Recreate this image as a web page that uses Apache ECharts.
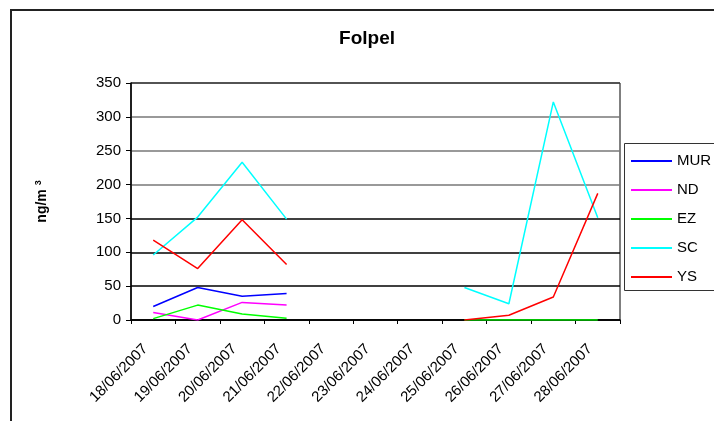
<!DOCTYPE html>
<html>
<head>
<meta charset="utf-8">
<script src="https://cdn.jsdelivr.net/npm/echarts@6/dist/echarts.min.js"></script>
<style>
  html, body { margin: 0; padding: 0; background: #fff; }
  #chart { width: 714px; height: 421px; }
</style>
</head>
<body>
<div id="chart"></div>
<script>
// Sampling dates
const dates = ['18/06/2007', '19/06/2007', '20/06/2007', '21/06/2007', '22/06/2007',
  '23/06/2007', '24/06/2007', '25/06/2007', '26/06/2007', '27/06/2007', '28/06/2007'];

// Folpel concentrations (ng/m3) per site; null = no sample
const mur = [20, 48, 35, 39, null, null, null, null, null, null, null];
const nd  = [11, 0, 26, 22, null, null, null, null, null, null, null];
const ez  = [2, 22, 9, 2.5, null, null, null, 0, 0, 0, 0];
const sc  = [96, 152, 233, 149, null, null, null, 48, 24, 322, 151];
const ys  = [118, 76, 148, 82, null, null, null, 0, 7, 34, 187];

const yTicks = [0, 50, 100, 150, 200, 250, 300, 350];

const seriesDefs = [
  { name: 'MUR', data: mur, color: '#0000ff' },
  { name: 'ND',  data: nd,  color: '#ff00ff' },
  { name: 'EZ',  data: ez,  color: '#00ff00' },
  { name: 'SC',  data: sc,  color: '#00ffff' },
  { name: 'YS',  data: ys,  color: '#ff0000' }
];

const chart = echarts.init(document.getElementById('chart'), null, { renderer: 'canvas' });
const font = 'Liberation Sans, Arial, sans-serif';

chart.setOption({
  animation: false,
  backgroundColor: '#fff',
  textStyle: { fontFamily: font, color: '#000' },
  title: {
    text: 'Folpel',
    left: 367, top: 29, textAlign: 'center',
    padding: 0,
    textStyle: { fontFamily: font, fontSize: 19, fontWeight: 'bold', color: '#000' }
  },
  graphic: [
    {
      type: 'rect', silent: true, z: 0,
      shape: { x: 11, y: 10, width: 760, height: 460 },
      style: { fill: 'none', stroke: '#222', lineWidth: 2 }
    },
    {
      type: 'rect', silent: true, z: 0,
      shape: { x: 624.5, y: 143.5, width: 120, height: 147 },
      style: { fill: '#fff', stroke: '#333', lineWidth: 1 }
    }
  ],
  legend: {
    orient: 'vertical',
    left: 631, top: 152,
    padding: 0,
    itemGap: 11,
    itemWidth: 41, itemHeight: 2,
    icon: 'rect',
    textStyle: { fontFamily: font, fontSize: 15, color: '#000', lineHeight: 18 },
    data: seriesDefs.map(s => s.name)
  },
  grid: {
    left: 131, right: 94, top: 83, bottom: 101,
    show: true, borderColor: '#000', borderWidth: 1, backgroundColor: 'transparent'
  },
  xAxis: {
    type: 'category',
    data: dates,
    boundaryGap: true,
    axisLine: { lineStyle: { color: '#000', width: 1.5 } },
    axisTick: { show: true, length: 4, inside: false, lineStyle: { color: '#000' } },
    axisLabel: {
      rotate: 45, fontSize: 15, color: '#000', fontFamily: font,
      margin: 19, padding: [0, 11, 0, 0], interval: 0
    },
    splitLine: { show: false }
  },
  yAxis: {
    type: 'value',
    min: yTicks[0], max: yTicks[yTicks.length - 1], interval: 50,
    name: '{a|ng/m }{s|3}',
    nameLocation: 'middle',
    nameRotate: 90,
    nameGap: 80,
    nameTextStyle: {
      rich: {
        a: { fontFamily: font, fontSize: 14, fontWeight: 'bold', color: '#000' },
        s: { fontFamily: font, fontSize: 9, fontWeight: 'bold', color: '#000', padding: [0, 0, 8, 0] }
      }
    },
    axisLine: { show: true, lineStyle: { color: '#000', width: 1.5 } },
    axisTick: { show: true, length: 5, lineStyle: { color: '#000' } },
    axisLabel: { fontSize: 15, color: '#000', fontFamily: font, margin: 10 },
    splitLine: {
      show: true,
      lineStyle: {
        color: ['#000', '#000', '#000', '#000', '#777', '#777', '#777', '#444'],
        width: 1.5
      }
    }
  },
  series: seriesDefs.map(s => ({
    name: s.name,
    type: 'line',
    data: s.data,
    showSymbol: false,
    connectNulls: false,
    color: s.color,
    lineStyle: { color: s.color, width: 1.5 },
    itemStyle: { color: s.color }
  }))
});
</script>
</body>
</html>
